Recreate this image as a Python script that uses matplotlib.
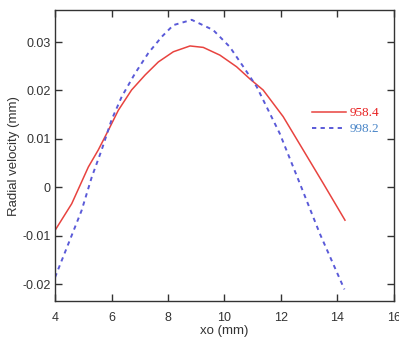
import matplotlib
matplotlib.use('Agg')
import matplotlib.pyplot as plt

# values
x_red = [4.0, 4.59, 5.18, 5.53, 5.89, 6.24, 6.71, 7.19, 7.66, 8.19, 8.78, 9.25,
         9.84, 10.43, 10.9, 11.37, 12.08, 12.79, 13.5, 14.27]
y_red = [-0.0089, -0.0034, 0.0042, 0.0077, 0.0118, 0.0159, 0.0201, 0.0232, 0.0259,
         0.0280, 0.0292, 0.0289, 0.0273, 0.0249, 0.0224, 0.0201, 0.0146, 0.0077,
         0.0008, -0.0068]

x_blue = [4.0, 4.47, 4.94, 5.30, 5.65, 6.0, 6.36, 6.83, 7.30, 7.78, 8.19, 8.84,
          9.60, 10.19, 10.67, 11.14, 11.96, 12.67, 13.38, 14.25]
y_blue = [-0.0186, -0.0117, -0.0048, 0.0021, 0.0077, 0.0139, 0.0187, 0.0235, 0.0277,
          0.0311, 0.0335, 0.0346, 0.0325, 0.0290, 0.0249, 0.0208, 0.0111, 0.0008,
          -0.0096, -0.0211]

labels = ['958.4', '998.2']
colors = ['#e8433f', '#5a5ad8']
text_colors = ['#e82020', '#4a86c8']

x_ticks = [4, 6, 8, 10, 12, 14, 16]
y_ticks = [-0.02, -0.01, 0, 0.01, 0.02, 0.03]
y_tick_labels = ['-0.02', '-0.01', '0', '0.01', '0.02', '0.03']

plt.rcParams['font.family'] = ['Liberation Sans', 'DejaVu Sans']

fig = plt.figure(figsize=(3.99, 3.38), dpi=100)
ax = fig.add_axes([0.138, 0.1095, 0.849, 0.8605])

l1, = ax.plot(x_red, y_red, color=colors[0], lw=1.1)
l2, = ax.plot(x_blue, y_blue, color=colors[1], lw=1.4, dashes=(2.2, 2.2))

ax.set_xlim(4, 16)
ax.set_ylim(-0.0235, 0.0366)
ax.set_xticks(x_ticks)
ax.set_yticks(y_ticks)
ax.set_yticklabels(y_tick_labels)
ax.tick_params(direction='in', top=True, right=True, length=5, width=1,
               labelsize=9, labelcolor='#333333', color='#333333')
ax.tick_params(axis='x', pad=8)
ax.tick_params(axis='y', pad=3)
for s in ax.spines.values():
    s.set_color('#333333')
    s.set_linewidth(1.0)

ax.set_xlabel('xo (mm)', fontsize=9.5, color='#333333', labelpad=1)
ax.set_ylabel('Radial velocity (mm)', fontsize=9.5, color='#333333', labelpad=2)

leg = ax.legend([l1, l2], labels, loc='upper left', bbox_to_anchor=(0.742, 0.685),
                frameon=False, handlelength=2.6, handletextpad=0.25,
                labelspacing=0.3, borderaxespad=0,
                prop={'family': 'Liberation Serif', 'size': 9.5})
for t, c in zip(leg.get_texts(), text_colors):
    t.set_color(c)

fig.savefig('out.png', dpi=100)
